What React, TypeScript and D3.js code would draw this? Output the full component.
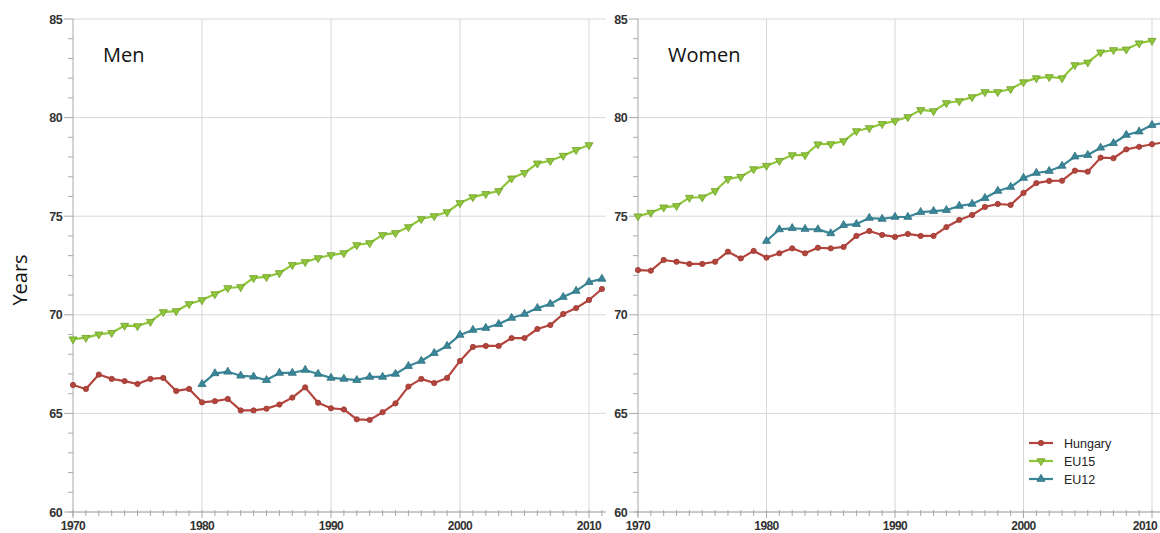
import React from "react";
import * as d3 from "d3";

const yearsAll = [1970, 1971, 1972, 1973, 1974, 1975, 1976, 1977, 1978, 1979, 1980, 1981, 1982, 1983, 1984, 1985, 1986, 1987, 1988, 1989, 1990, 1991, 1992, 1993, 1994, 1995, 1996, 1997, 1998, 1999, 2000, 2001, 2002, 2003, 2004, 2005, 2006, 2007, 2008, 2009, 2010, 2011];
const seriesNames = ["Hungary", "EU15", "EU12"];
const seriesStart = [1970, 1970, 1980];
const panelTitles = ["Men", "Women"];
const yTicks = [60, 65, 70, 75, 80, 85];
const xTicks = [1970, 1980, 1990, 2000, 2010];
const yAxisTitle = "Years";

const menHungary = [66.44, 66.24, 66.97, 66.75, 66.64, 66.49, 66.75, 66.8, 66.14, 66.24, 65.56, 65.62, 65.73, 65.15, 65.15, 65.24, 65.45, 65.8, 66.32, 65.54, 65.26, 65.2, 64.7, 64.67, 65.06, 65.51, 66.36, 66.75, 66.54, 66.8, 67.66, 68.37, 68.42, 68.42, 68.82, 68.82, 69.28, 69.48, 70.04, 70.34, 70.75, 71.31];
const menEU15 = [68.76, 68.84, 69.01, 69.09, 69.45, 69.43, 69.65, 70.14, 70.19, 70.55, 70.75, 71.05, 71.36, 71.41, 71.87, 71.92, 72.12, 72.53, 72.68, 72.88, 73.03, 73.13, 73.54, 73.64, 74.05, 74.15, 74.45, 74.86, 75.01, 75.21, 75.67, 75.97, 76.13, 76.28, 76.92, 77.2, 77.68, 77.81, 78.07, 78.36, 78.61];
const menEU12 = [66.48, 67.03, 67.11, 66.91, 66.86, 66.69, 67.05, 67.05, 67.2, 67.0, 66.8, 66.75, 66.69, 66.85, 66.85, 67.0, 67.4, 67.66, 68.06, 68.42, 68.98, 69.23, 69.33, 69.53, 69.84, 70.04, 70.34, 70.55, 70.9, 71.21, 71.66, 71.82];
const womenHungary = [72.27, 72.24, 72.78, 72.69, 72.58, 72.58, 72.69, 73.2, 72.86, 73.24, 72.9, 73.12, 73.37, 73.12, 73.4, 73.37, 73.44, 74.0, 74.25, 74.05, 73.95, 74.1, 74.0, 74.0, 74.45, 74.81, 75.06, 75.47, 75.62, 75.57, 76.18, 76.68, 76.79, 76.8, 77.31, 77.26, 77.97, 77.94, 78.39, 78.52, 78.65, 78.75];
const womenEU15 = [75.0, 75.18, 75.45, 75.52, 75.94, 75.96, 76.28, 76.89, 77.0, 77.39, 77.56, 77.81, 78.1, 78.1, 78.65, 78.66, 78.81, 79.32, 79.47, 79.68, 79.83, 80.03, 80.39, 80.33, 80.74, 80.84, 81.04, 81.3, 81.3, 81.45, 81.8, 82.0, 82.06, 82.0, 82.67, 82.8, 83.31, 83.43, 83.46, 83.77, 83.9];
const womenEU12 = [73.74, 74.33, 74.39, 74.35, 74.33, 74.13, 74.55, 74.6, 74.91, 74.86, 74.96, 74.96, 75.21, 75.26, 75.31, 75.52, 75.62, 75.92, 76.28, 76.48, 76.94, 77.19, 77.29, 77.55, 78.02, 78.1, 78.47, 78.7, 79.12, 79.29, 79.62, 79.75];

const panelData = [
  [menHungary, menEU15, menEU12],
  [womenHungary, womenEU15, womenEU12],
];

const colors = ["#b3453d", "#8fc63a", "#3a8799"];
const strokeDark = ["#9a3a33", "#6f9e2a", "#2e6f7e"];

const W = 1160;
const H = 533;
const panelLeft = [73, 638];
const pxPerYear = [12.9, 12.85];
const plotTop = 19;
const plotBottom = 512;

function markerPath(i: number) {
  if (i === 0) return d3.symbol(d3.symbolCircle, 22)() as string;
  return d3.symbol(d3.symbolTriangle, 28)() as string;
}

function Marker({ i, x, y }: { i: number; x: number; y: number }) {
  const rot = i === 1 ? 180 : 0;
  return (
    <path
      d={markerPath(i)}
      transform={`translate(${x},${y}) rotate(${rot})`}
      fill={colors[i]}
      stroke={strokeDark[i]}
      strokeWidth={0.8}
    />
  );
}

function Panel({ p }: { p: number }) {
  const x0 = panelLeft[p];
  const xEnd = x0 + 41.3 * pxPerYear[p];
  const x = d3.scaleLinear().domain([1970, 2011.3]).range([x0, xEnd]);
  const y = d3.scaleLinear().domain([60, 85]).range([plotBottom, plotTop]);
  const minorY = d3.range(60, 85.01, 1);
  const line = d3
    .line<[number, number]>()
    .x((d) => x(d[0]))
    .y((d) => y(d[1]));

  return (
    <g>
      {yTicks.map((t) => (
        <line key={"gy" + t} x1={x0} x2={xEnd} y1={y(t)} y2={y(t)} stroke="#d8d8d8" strokeWidth={1} />
      ))}
      {xTicks.filter((t) => t > 1970).map((t) => (
        <line key={"gx" + t} x1={x(t)} x2={x(t)} y1={plotTop} y2={plotBottom} stroke="#d8d8d8" strokeWidth={1} />
      ))}
      <line x1={x0} x2={x0} y1={plotTop} y2={plotBottom + 4} stroke="#a8a8a8" strokeWidth={1} />
      <line x1={x0 - 4} x2={xEnd} y1={plotBottom} y2={plotBottom} stroke="#a8a8a8" strokeWidth={1} />
      {minorY.map((t) => (
        <line key={"my" + t} x1={x0 - (t % 5 === 0 ? 9 : 5)} x2={x0} y1={y(t)} y2={y(t)} stroke="#a8a8a8" strokeWidth={1} />
      ))}
      {yearsAll.map((yr) => (
        <line key={"mx" + yr} x1={x(yr)} x2={x(yr)} y1={plotBottom - 2} y2={plotBottom + (yr % 10 === 0 ? 6 : 4)} stroke="#a8a8a8" strokeWidth={1} />
      ))}
      {yTicks.map((t) => (
        <text key={"ly" + t} x={x0 - 11} y={y(t) + 4.5} textAnchor="end" fontFamily="Liberation Sans, Arial, sans-serif" fontSize={12.5} fontWeight="bold" fill="#333" letterSpacing={-0.6}>
          {t}
        </text>
      ))}
      {xTicks.map((t) => (
        <text key={"lx" + t} x={t === 2010 && p === 1 ? Math.min(x(t), W - 15) : x(t)} y={530} textAnchor="middle" fontFamily="Liberation Sans, Arial, sans-serif" fontSize={12} fontWeight="bold" fill="#333" letterSpacing={-0.6}>
          {t}
        </text>
      ))}
      <text x={x0 + 30} y={62} fontFamily="Open Sans, sans-serif" fontSize={20} fill="#111">
        {panelTitles[p]}
      </text>
      {panelData[p].map((vals, i) => {
        const pts: [number, number][] = vals.map((v, k) => [seriesStart[i] + k, v]);
        return (
          <g key={"s" + i}>
            <path d={line(pts) as string} fill="none" stroke={colors[i]} strokeWidth={2.2} strokeLinejoin="round" />
            {pts.map((d, k) => (
              <Marker key={k} i={i} x={x(d[0])} y={y(d[1])} />
            ))}
          </g>
        );
      })}
    </g>
  );
}

function Legend() {
  const lx = 1029;
  const ly = [443, 461, 479];
  return (
    <g>
      {seriesNames.map((n, i) => (
        <g key={n}>
          <line x1={lx} x2={lx + 24} y1={ly[i]} y2={ly[i]} stroke={colors[i]} strokeWidth={2.2} />
          <Marker i={i} x={lx + 12} y={ly[i]} />
          <text x={lx + 35} y={ly[i] + 4.5} fontFamily="Liberation Sans, Arial, sans-serif" fontSize={12.5} fill="#222">
            {n}
          </text>
        </g>
      ))}
    </g>
  );
}

export default function App() {
  return (
    <div style={{ position: "fixed", left: 0, top: 0, width: W, height: H, background: "#fff" }}>
      <svg width={W} height={H} viewBox={`0 0 ${W} ${H}`} style={{ display: "block" }}>
        <rect x={0} y={0} width={W} height={H} fill="#fff" />
        <Panel p={0} />
        <Panel p={1} />
        <Legend />
        <text
          transform="translate(27,280) rotate(-90)"
          textAnchor="middle"
          fontFamily="Open Sans, sans-serif"
          fontSize={20}
          fill="#111"
        >
          {yAxisTitle}
        </text>
      </svg>
    </div>
  );
}
